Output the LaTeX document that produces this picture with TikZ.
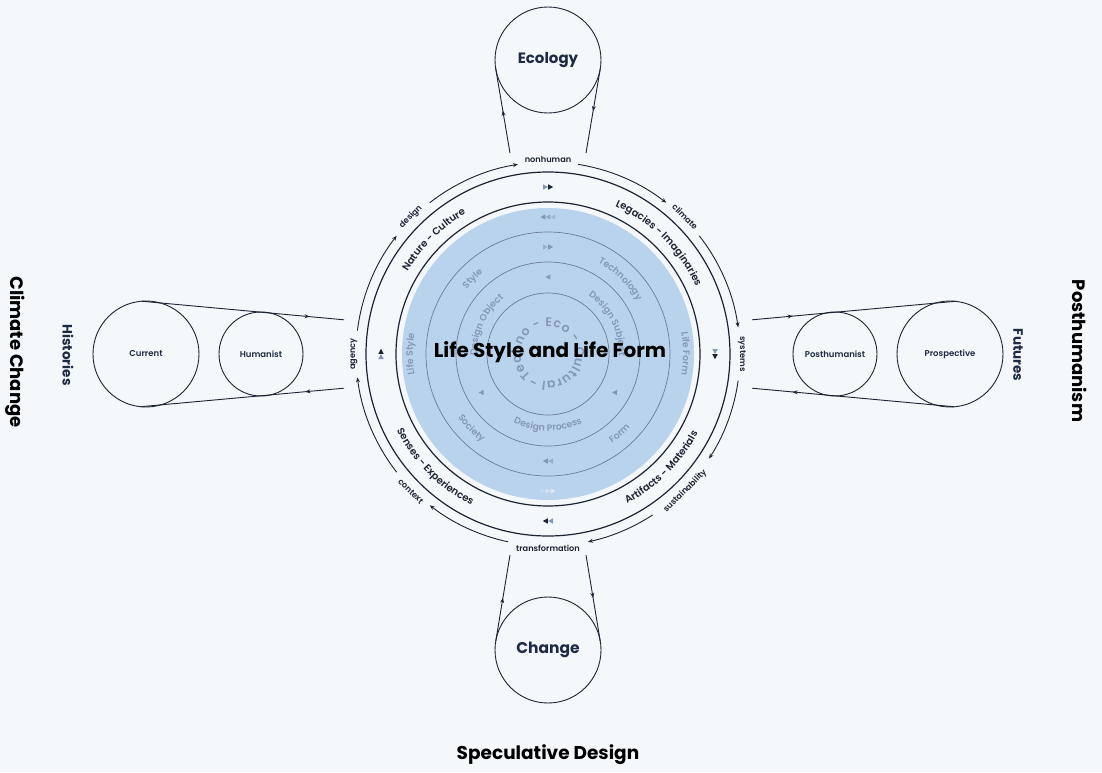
\documentclass[tikz,border=0pt]{standalone}
\usepackage{fontspec}
\setmainfont{Poppins}
\newfontfamily\headfont{Poppins}[UprightFont=* SemiBold]
\newfontfamily\medfont{Poppins}[UprightFont=* Medium]
\usetikzlibrary{arrows.meta,calc,decorations.markings,decorations.text}

\definecolor{bg}{HTML}{F4F8FB}
\definecolor{discblue}{HTML}{BAD3EC}
\definecolor{ink}{HTML}{1C2333}
\definecolor{navy}{HTML}{1E2A44}
\definecolor{lineg}{HTML}{6B7C96}
\definecolor{softtxt}{HTML}{8498B6}
\definecolor{palemk}{HTML}{DCE7F3}

\newcommand{\ringfmt}{\headfont\fontsize{10}{11}\selectfont\color{ink}}
\newcommand{\innerfmt}{\headfont\fontsize{9.3}{10}\selectfont\color{softtxt}}
\newcommand{\corefmt}{\headfont\fontsize{12.5}{14}\selectfont\color{softtxt}}

% labels bent along a circle: radius, angle, format, text
\newcommand{\cwlabel}[4]{%
  \path[decorate, decoration={text along path, text align=center, text={|#3|#4}}]
    (#2+60:#1) arc[start angle=#2+60, end angle=#2-60, radius=#1];}
\newcommand{\ccwlabel}[4]{%
  \path[decorate, decoration={text along path, text align=center, text={|#3|#4}}]
    (#2-60:#1) arc[start angle=#2-60, end angle=#2+60, radius=#1];}

\tikzset{
  mk/.pic={\fill (-2.4,2.7) -- (2.6,0) -- (-2.4,-2.7) -- cycle;},
}

\begin{document}
\begin{tikzpicture}[x=1pt, y=1pt,
    sat/.style={draw=ink, line width=0.9pt, circle, inner sep=0pt, outer sep=0pt, text=navy},
    ring/.style={draw=ink, line width=1.2pt},
    inring/.style={draw=lineg, line width=0.7pt},
    flow/.style={draw=ink, line width=0.9pt},
    outlbl/.style={font=\headfont\fontsize{8.2}{9}\selectfont, text=ink, inner sep=1pt},
    arcflow/.style={draw=ink, line width=0.9pt, -{Stealth[length=5pt,width=4pt]}},
    midarrow/.style={postaction={decorate}, decoration={markings,
        mark=at position #1 with {\arrow{Stealth[length=5pt,width=4pt]}}}},
  ]
  % page
  \fill[bg] (-548,-418) rectangle (554,354);
  \useasboundingbox (-548,-418) rectangle (554,354);

  % core disc and inner rings
  \fill[discblue] (0,0) circle[radius=146];
  \draw[inring] (0,0) circle[radius=122];
  \draw[inring] (0,0) circle[radius=92];
  \draw[inring] (0,0) circle[radius=61];

  % main rings
  \draw[ring] (0,0) circle[radius=152];
  \draw[ring] (0,0) circle[radius=182];

  % flow markers
  \foreach \a in {90,0,-90,180}{
    \pic[color=softtxt, rotate=\a-90] at ($(\a:167)+(\a+90:2.6)$) {mk};
    \pic[color=ink, rotate=\a-90] at ($(\a:167)+(\a-90:2.6)$) {mk};
  }
  \foreach \a/\c in {90/softtxt,-90/palemk}
    \foreach \k/\o in {5/1,0/0.7,-5/0.45}
      \pic[color=\c, opacity=\o, rotate=\a+90] at ($(\a:137)+(\a+90:\k)$) {mk};
  \foreach \a in {90,-90}{
    \pic[color=softtxt, rotate=\a-90] at ($(\a:107)+(\a-90:2.6)$) {mk};
    \pic[color=softtxt, opacity=0.6, rotate=\a-90] at ($(\a:107)+(\a+90:2.6)$) {mk};
  }
  \foreach \a in {90,210,330}
    \pic[color=softtxt, rotate=180] at (\a:77) {mk};

  % ring labels
  \cwlabel{162.5}{135}{\ringfmt}{Nature - Culture}
  \cwlabel{162.5}{45}{\ringfmt}{Legacies - Imaginaries}
  \ccwlabel{169.5}{225}{\ringfmt}{Senses - Experiences}
  \ccwlabel{169.5}{-45}{\ringfmt}{Artifacts - Materials}

  % labels inside the disc
  \cwlabel{135}{180}{\innerfmt}{Life Style}
  \cwlabel{135}{0}{\innerfmt}{Life Form}
  \cwlabel{104}{135}{\innerfmt}{Style}
  \cwlabel{104}{46}{\innerfmt}{Technology}
  \ccwlabel{110}{224}{\innerfmt}{Society}
  \ccwlabel{110}{-48}{\innerfmt}{Form}
  \cwlabel{71}{155}{\innerfmt}{Design Object}
  \cwlabel{71}{27}{\innerfmt}{Design Subject}
  \ccwlabel{77}{270}{\innerfmt}{Design Process}
  \path[decorate, decoration={text along path, text align={fit to path},
      text={|\corefmt|Techno - Eco - Cultural - }}]
    (232:27.5) arc[start angle=232, end angle=-125, radius=27.5];

  \node[font=\bfseries\fontsize{20}{24}\selectfont, text=black] (title) at (2,2) {Life Style and Life Form};

  % outer flow
  \foreach \a/\ga/\b/\gb in {180/7/135/7, 135/7/90/9, 90/9/45/7, 45/7/0/8,
      0/8/-45/12, -45/12/-90/12, -90/12/-135/7, -135/7/-180/7}
    \draw[arcflow] (\a-\ga:192) arc[start angle=\a-\ga, end angle=\b+\gb, radius=192];

  \node[outlbl, rotate=90] (agency) at (180:194) {agency};
  \node[outlbl, rotate=45] (design) at (135:194) {design};
  \node[outlbl] (nonhuman) at (90:194) {nonhuman};
  \node[outlbl, rotate=-45] (climate) at (45:194) {climate};
  \node[outlbl, rotate=-90] (systems) at (0:194) {systems};
  \node[outlbl, rotate=45] (sustain) at (-45:194) {sustainability};
  \node[outlbl] (transf) at (-90:194) {transformation};
  \node[outlbl, rotate=-45] (context) at (-135:194) {context};

  % satellites
  \node[sat, minimum size=106pt, font=\bfseries\fontsize{15}{18}\selectfont] (eco) at (0,294) {Ecology};
  \node[sat, minimum size=106pt, font=\bfseries\fontsize{15.5}{18}\selectfont] (chg) at (0,-296) {Change};
  \node[sat, minimum size=106pt, font=\headfont\fontsize{8.5}{10}\selectfont] (cur) at (-402,0) {Current};
  \node[sat, minimum size=84pt, font=\headfont\fontsize{8.5}{10}\selectfont] (hum) at (-287,0) {Humanist};
  \node[sat, minimum size=84pt, font=\headfont\fontsize{8.5}{10}\selectfont] (post) at (287,0) {Posthumanist};
  \node[sat, minimum size=106pt, font=\headfont\fontsize{8.5}{10}\selectfont] (pro) at (402,0) {Prospective};

  \coordinate (ecoL) at (-38,201);
  \coordinate (ecoR) at (38,201);
  \coordinate (chgL) at (-38,-201);
  \coordinate (chgR) at (38,-201);
  \coordinate (curT) at (-204,34.2);
  \coordinate (curB) at (-204,-34.2);
  \coordinate (proT) at (204,34.2);
  \coordinate (proB) at (204,-34.2);

  \draw[flow, midarrow=0.5] (ecoL) -- (eco.189.6);
  \draw[flow, midarrow=0.5] (eco.350.4) -- (ecoR);
  \draw[flow, midarrow=0.5] (chg.170) -- (chgL);
  \draw[flow, midarrow=0.5] (chgR) -- (chg.10);
  \draw[flow, midarrow=0.83] (cur.95.49) -- (curT);
  \draw[flow, midarrow=0.19] (curB) -- (cur.264.51);
  \draw[flow, midarrow=0.2] (proT) -- (pro.84.51);
  \draw[flow, midarrow=0.8] (pro.275.49) -- (proB);

  % side titles
  \node[font=\bfseries\fontsize{18}{21}\selectfont, text=black, rotate=-90] (climchg) at (-533,2) {Climate Change};
  \node[font=\bfseries\fontsize{13.5}{16}\selectfont, text=navy, rotate=-90] (hist) at (-480,-1) {Histories};
  \node[font=\bfseries\fontsize{13.5}{16}\selectfont, text=navy, rotate=-90] (fut) at (470,-1) {Futures};
  \node[font=\bfseries\fontsize{18}{21}\selectfont, text=black, rotate=-90] (posthum) at (532,3) {Posthumanism};
  \node[font=\bfseries\fontsize{18.5}{21}\selectfont, text=black] (spec) at (0,-401) {Speculative Design};
\end{tikzpicture}
\end{document}
